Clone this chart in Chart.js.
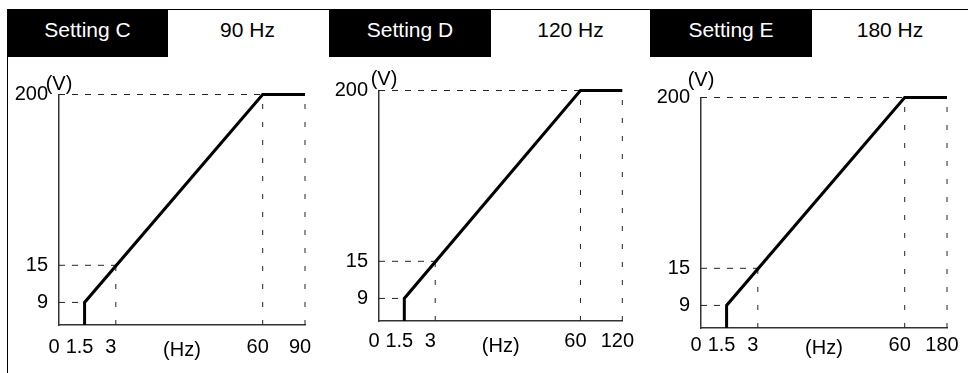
<!DOCTYPE html>
<html>
<head>
<meta charset="utf-8">
<script src="https://cdn.jsdelivr.net/npm/chart.js@4.4.0/dist/chart.umd.min.js"></script>
<style>
html, body { margin: 0; padding: 0; background: #fff; }
#page { position: relative; width: 968px; height: 373px; overflow: hidden; font-family: "Liberation Sans", Arial, sans-serif; }
.rule { position: absolute; background: #000; }
.head { position: absolute; top: 9px; height: 48px; line-height: 42px; font-size: 21px; text-align: center; color: #000; }
.head.dark { background: #000; color: #fff; }
canvas { position: absolute; }
</style>
</head>
<body>
<div id="page">
  <div class="rule" style="left:7px; top:9px; width:961px; height:1px"></div>
  <div class="rule" style="left:7px; top:9px; width:1px; height:364px"></div>
</div>
<script>
// values
var settingNames = ['Setting C', 'Setting D', 'Setting E'];
var maxFreqs = [90, 120, 180];        // Hz, right end of each pattern
var curveFreq = [1.5, 1.5, 60];       // last point is the max frequency
var curveVolt = [0, 9, 200, 200];
var guideFreq = [1.5, 3, 60];
var guideVolt = [9, 15, 200];
var xTickBase = [0, 1.5, 3, 60];      // max frequency appended per chart
var yTicks = [9, 15, 200];

// the drawing is not to scale: where each tick value sits along its axis (0..1)
var xStops = [0, 0.104, 0.231, 0.828, 1];
var yStops = [0, 0.098, 0.259, 1];

// header cells and canvas placement of each panel
var panels = [
  { dark: [7, 168], light: [168, 327], left: 8, top: 58, vdx: 0, vdy: -10, xpad: 10, hzpad: 11 },
  { dark: [329, 491], light: [491, 650], left: 328, top: 54, vdx: 5, vdy: -11, xpad: 8, hzpad: 11 },
  { dark: [650, 812], light: [812, 968], left: 650, top: 61, vdx: 0, vdy: -17, xpad: 5, hzpad: 16 }
];

var FONT = '"Liberation Sans", Arial, sans-serif';
Chart.defaults.font.family = FONT;
Chart.defaults.font.size = 20;
Chart.defaults.color = '#000';

// linear scale whose ticks sit at fixed fractions of the axis
class PiecewiseScale extends Chart.LinearScale {
  buildTicks() {
    return this.options.marks.map(function (v) { return { value: v }; });
  }
  toDecimal(value) {
    var m = this.options.marks, s = this.options.stops;
    if (value <= m[0]) return s[0];
    for (var i = 1; i < m.length; i++) {
      if (value <= m[i]) {
        return s[i - 1] + (value - m[i - 1]) / (m[i] - m[i - 1]) * (s[i] - s[i - 1]);
      }
    }
    return s[s.length - 1];
  }
  getPixelForValue(value) {
    if (value === null || value === undefined) return NaN;
    return this.getPixelForDecimal(this.toDecimal(value));
  }
  getValueForPixel(pixel) {
    var d = this.getDecimalForPixel(pixel);
    var m = this.options.marks, s = this.options.stops;
    for (var i = 1; i < s.length; i++) {
      if (d <= s[i]) {
        return m[i - 1] + (d - s[i - 1]) / (s[i] - s[i - 1]) * (m[i] - m[i - 1]);
      }
    }
    return m[m.length - 1];
  }
}
PiecewiseScale.id = 'piecewise';
PiecewiseScale.defaults = {};
Chart.register(PiecewiseScale);

// "(V)" written above the voltage axis
var unitLabel = {
  id: 'unitLabel',
  afterDraw: function (chart, args, opts) {
    var ctx = chart.ctx, area = chart.chartArea;
    ctx.save();
    ctx.font = '20px ' + FONT;
    ctx.fillStyle = '#000';
    ctx.textAlign = 'center';
    ctx.textBaseline = 'middle';
    ctx.fillText(opts.text, area.left + opts.dx, area.top + opts.dy);
    ctx.restore();
  }
};

function guide(points, vertical) {
  return {
    data: points,
    borderColor: '#222',
    borderWidth: 1,
    borderDash: vertical ? [5, 13] : [6, 7],
    pointRadius: 0,
    fill: false,
    clip: false
  };
}

var page = document.getElementById('page');

panels.forEach(function (p, i) {
  var fmax = maxFreqs[i];

  var dark = document.createElement('div');
  dark.className = 'head dark';
  dark.style.left = p.dark[0] + 'px';
  dark.style.width = (p.dark[1] - p.dark[0]) + 'px';
  dark.textContent = settingNames[i];
  page.appendChild(dark);

  var light = document.createElement('div');
  light.className = 'head';
  light.style.left = p.light[0] + 'px';
  light.style.width = (p.light[1] - p.light[0]) + 'px';
  light.textContent = fmax + ' Hz';
  page.appendChild(light);

  var canvas = document.createElement('canvas');
  canvas.width = 319;
  canvas.height = 315;
  canvas.style.left = p.left + 'px';
  canvas.style.top = p.top + 'px';
  page.appendChild(canvas);

  var curve = curveVolt.map(function (v, k) {
    return { x: k < curveFreq.length ? curveFreq[k] : fmax, y: v };
  });

  var datasets = [{
    data: curve,
    borderColor: '#000',
    borderWidth: 3,
    borderJoinStyle: 'miter',
    pointRadius: 0,
    fill: false,
    clip: false
  }];
  guideFreq.forEach(function (f, k) {
    var v = guideVolt[k];
    datasets.push(guide([{ x: 0, y: v }, { x: f, y: v }], false));
    if (k > 0) datasets.push(guide([{ x: f, y: 0 }, { x: f, y: v }], true));
  });
  var top = guideVolt[guideVolt.length - 1];
  datasets.push(guide([{ x: fmax, y: 0 }, { x: fmax, y: top }], true));

  new Chart(canvas.getContext('2d'), {
    type: 'line',
    data: { datasets: datasets },
    options: {
      responsive: false,
      animation: false,
      events: [],
      layout: { padding: { top: 36.5, right: 22, left: 0, bottom: 0 } },
      plugins: {
        legend: { display: false },
        tooltip: { enabled: false },
        unitLabel: { text: '(V)', dx: p.vdx, dy: p.vdy }
      },
      scales: {
        x: {
          type: 'piecewise',
          min: 0,
          max: fmax,
          marks: xTickBase.concat([fmax]),
          stops: xStops,
          grid: { display: false, drawTicks: false },
          border: { display: true, color: '#333', width: 1.5 },
          ticks: {
            padding: p.xpad,
            labelOffset: -5,
            autoSkip: false,
            maxRotation: 0,
            callback: function (v) { return String(v); }
          },
          title: {
            display: true,
            text: '(Hz)',
            font: { size: 20 },
            padding: { top: 0, bottom: p.hzpad }
          },
          afterFit: function (scale) { scale.height = 48; }
        },
        y: {
          type: 'piecewise',
          min: 0,
          max: top,
          marks: [0].concat(yTicks),
          stops: yStops,
          grid: { display: false, drawTicks: false },
          border: { display: true, color: '#333', width: 1.5 },
          ticks: {
            padding: 11,
            autoSkip: false,
            callback: function (v) { return v === 0 ? '' : String(v); }
          },
          afterFit: function (scale) { scale.width = 51; }
        }
      }
    },
    plugins: [unitLabel]
  });
});
</script>
</body>
</html>
